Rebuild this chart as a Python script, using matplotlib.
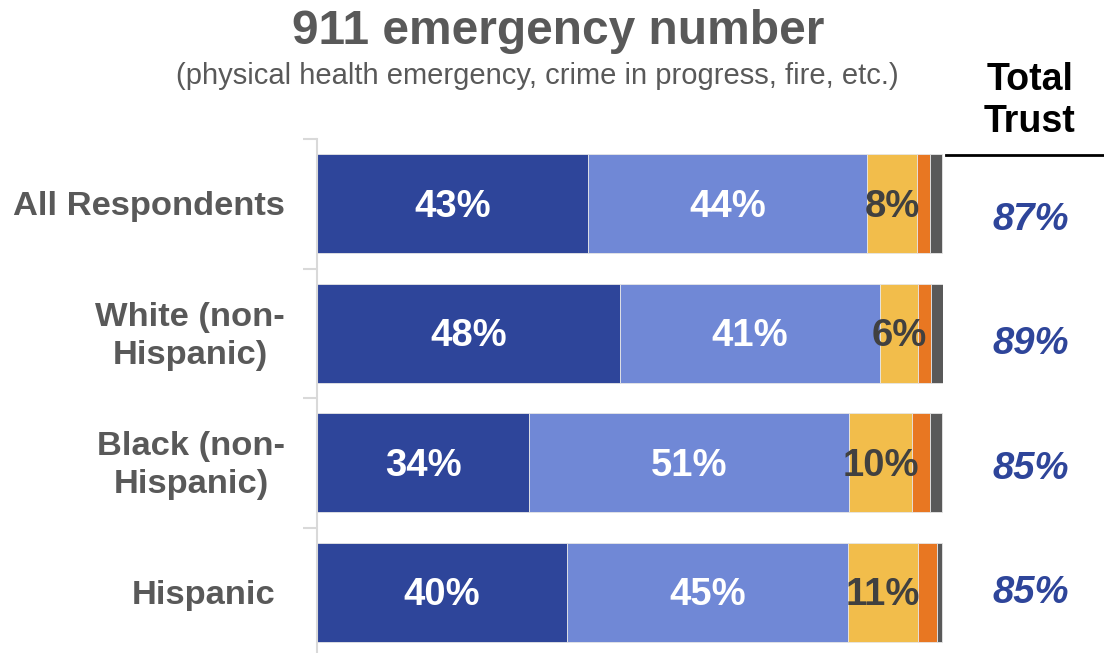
import matplotlib
matplotlib.use("Agg")
import matplotlib.pyplot as plt
import matplotlib.transforms as mtransforms
import matplotlib.lines as mlines
import numpy as np

plt.rcParams['font.family'] = ['Liberation Sans', 'DejaVu Sans']

categories = ["All Respondents", "White (non-\nHispanic)", "Black (non-\nHispanic)", "Hispanic"]
very_high = [43.3, 48.4, 33.9, 39.9]
somewhat = [44.6, 41.5, 51.1, 45.0]
not_much = [8.0, 6.1, 10.1, 11.1]
not_at_all = [2.1, 2.1, 2.9, 3.0]
dont_know = [1.9, 1.9, 1.9, 0.9]
labels_vh = ["43%", "48%", "34%", "40%"]
labels_sw = ["44%", "41%", "51%", "45%"]
labels_nm = ["8%", "6%", "10%", "11%"]
total_trust = ["87%", "89%", "85%", "85%"]

series = [very_high, somewhat, not_much, not_at_all, dont_know]
colors = ["#2E459A", "#7088D6", "#F2BD4B", "#E87722", "#595959"]
seg_labels = [labels_vh, labels_sw, labels_nm, None, None]
label_colors = ["white", "white", "#404040", None, None]

W, H = 1104, 653
fig = plt.figure(figsize=(W / 100, H / 100), dpi=100)
ax = fig.add_axes([317 / W, 1 - 657 / H, 626 / W, (657 - 139) / H])

down = mtransforms.ScaledTranslation(0, -3 / 100, fig.dpi_scale_trans)

y = np.arange(len(categories))
left = np.zeros(len(categories))
for vals, col, labs, lc in zip(series, colors, seg_labels, label_colors):
    vals = np.array(vals)
    ax.barh(y, vals, left=left, height=0.765, color=col, edgecolor="#E6E6E6", linewidth=0.6)
    if labs is not None:
        for i, (v, l) in enumerate(zip(vals, labs)):
            ax.text(left[i] + v / 2, y[i], l, ha="center", va="center",
                    transform=ax.transData + down,
                    color=lc, fontsize=27.5, fontweight="bold")
    left += vals

ax.set_xlim(0, 100)
ax.set_ylim(len(categories) - 0.5, -0.5)
ax.set_xticks([])
ax.set_yticks(np.arange(len(categories)) - 0.5)
ax.set_yticklabels([])
ax.tick_params(axis="y", length=10, width=1.5, color="#D9D9D9")
for s in ["top", "right", "bottom"]:
    ax.spines[s].set_visible(False)
ax.spines["left"].set_color("#D9D9D9")
ax.spines["left"].set_linewidth(1.5)

# category labels
label_x = [285, 285, 285, 276]
blend = mtransforms.blended_transform_factory(fig.transFigure, ax.transData)
for i, c in enumerate(categories):
    ax.text(label_x[i] / W, y[i], c, transform=blend + down,
            ha="right", va="center", multialignment="center",
            fontsize=24.8, fontweight="bold", color="#595959", linespacing=1.28)

# total trust column
tt_y = [220, 344, 469, 593]
for i, t in enumerate(total_trust):
    fig.text(1031 / W, 1 - tt_y[i] / H, t, ha="center", va="center",
             fontsize=27.5, fontweight="bold", fontstyle="italic", color="#2E459A")

fig.text(1030 / W, 1 - 101 / H, "Total\nTrust", ha="center", va="center",
         fontsize=27, fontweight="bold", color="black", linespacing=1.24)
fig.add_artist(mlines.Line2D([946 / W, 1.0], [1 - 155 / H, 1 - 155 / H],
                             transform=fig.transFigure, color="black", linewidth=2))

fig.text(558 / W, 1 - 32 / H, "911 emergency number", ha="center", va="center",
         fontsize=34.5, fontweight="bold", color="#595959")
fig.text(537.5 / W, 1 - 76 / H, "(physical health emergency, crime in progress, fire, etc.)",
         ha="center", va="center", fontsize=21, color="#595959")

fig.savefig("out.png", dpi=100)
